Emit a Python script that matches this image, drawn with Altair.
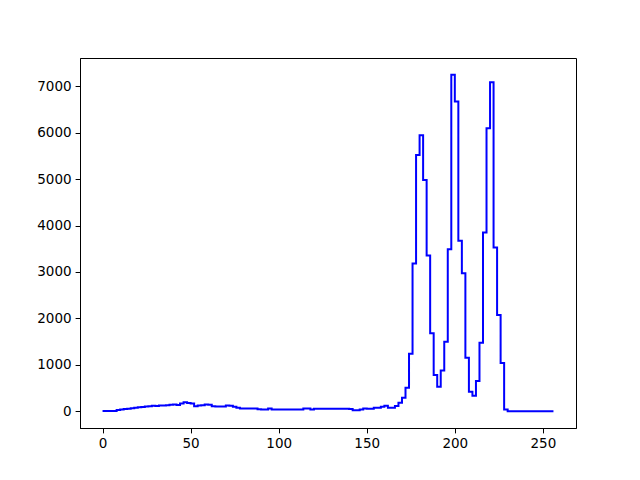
import altair as alt
import pandas as pd

# left edges of 2-unit bins, 0..254
bin_left = list(range(0, 256, 2))
counts = [
    3, 3, 3, 3, 25, 35, 45, 55, 65, 75,          # 0-18
    85, 90, 100, 105, 115, 110, 120, 125, 130, 140,  # 20-38
    145, 135, 166, 194, 175, 166, 108, 125, 130, 144,  # 40-58
    140, 108, 100, 100, 100, 122, 118, 94, 72, 58,   # 60-78
    58, 58, 58, 58, 40, 36, 36, 58, 36, 36,          # 80-98
    36, 36, 36, 36, 36, 36, 36, 58, 58, 36,          # 100-118
    50, 50, 50, 50, 50, 50, 50, 50, 50, 50,          # 120-138
    45, 20, 20, 36, 58, 50, 50, 72, 72, 94,          # 140-158
    115, 72, 72, 110, 180, 288, 503, 1238, 3181, 5522,  # 160-178
    5946, 4982, 3354, 1678, 778, 525, 879, 1497, 3492, 7250,  # 180-198
    6674, 3672, 2974, 1151, 420, 330, 648, 1476, 3851, 6097,  # 200-218
    7091, 3527, 2073, 1037, 36, 0, 0, 0, 0, 0,       # 220-238
    0, 0, 0, 0, 0, 0, 0, 0,                          # 240-254
]

xs = bin_left + [256]
ys = counts + [counts[-1]]
df = pd.DataFrame({"x": xs, "y": ys})

chart = (
    alt.Chart(df)
    .mark_line(interpolate="step-after", color="#0000ff", strokeWidth=2)
    .encode(
        x=alt.X(
            "x:Q",
            scale=alt.Scale(domain=[-12.8, 268.8], nice=False, zero=False),
            axis=alt.Axis(values=[0, 50, 100, 150, 200, 250], title=None, grid=False,
                          format="d"),
        ),
        y=alt.Y(
            "y:Q",
            scale=alt.Scale(domain=[-362.5, 7612.5], nice=False, zero=False),
            axis=alt.Axis(values=[0, 1000, 2000, 3000, 4000, 5000, 6000, 7000],
                          title=None, grid=False, format="d"),
        ),
    )
    .properties(
        width=496,
        height=370,
        autosize=alt.AutoSizeParams(type="none"),
        padding={"left": 72, "top": 50, "right": 56, "bottom": 45},
    )
    .configure_view(stroke="black", strokeWidth=1)
    .configure_axis(
        domainColor="black",
        domainWidth=1,
        tickColor="black",
        tickWidth=1,
        tickSize=4.9,
        labelFont="DejaVu Sans",
        labelFontSize=13.5,
        labelColor="black",
        labelPadding=4,
    )
)

chart.save("out.html", embed_options={"renderer": "svg", "actions": False})
